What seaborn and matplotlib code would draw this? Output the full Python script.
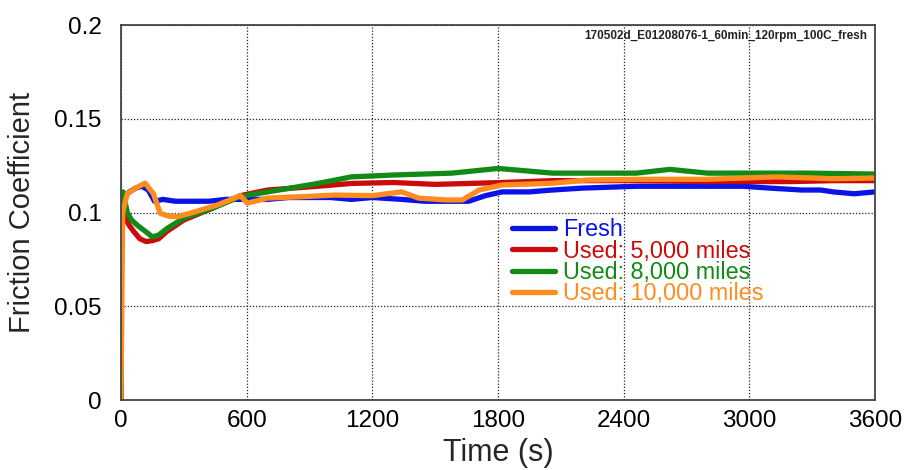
import matplotlib
matplotlib.use("Agg")
import matplotlib.pyplot as plt
import numpy as np
import pandas as pd
import seaborn as sns

# Friction coefficient vs time, one test oil per series
fresh_t = [0, 2, 15, 40, 70, 100, 130, 160, 200, 260, 330, 420, 500, 600, 700, 800, 900,
           1000, 1100, 1200, 1340, 1450, 1550, 1660, 1740, 1820, 1950, 2060, 2200, 2460,
           2600, 2800, 2970, 3100, 3250, 3340, 3400, 3500, 3600]
fresh_mu = [0.0, 0.104, 0.108, 0.111, 0.113, 0.114, 0.112, 0.106, 0.107, 0.106, 0.106,
            0.106, 0.107, 0.107, 0.107, 0.108, 0.108, 0.108, 0.107, 0.108, 0.107, 0.106,
            0.106, 0.106, 0.109, 0.111, 0.111, 0.112, 0.113, 0.114, 0.114, 0.114, 0.114,
            0.113, 0.112, 0.112, 0.111, 0.110, 0.111]

used5k_t = [0, 2, 20, 40, 60, 90, 120, 150, 180, 220, 300, 430, 570, 700, 940, 1100, 1300,
            1500, 1820, 2060, 2460, 2800, 3200, 3400, 3600]
used5k_mu = [0.0, 0.100, 0.097, 0.093, 0.090, 0.086, 0.0845, 0.085, 0.086, 0.090, 0.096,
             0.102, 0.109, 0.112, 0.114, 0.1155, 0.116, 0.115, 0.116, 0.117, 0.117,
             0.1165, 0.1165, 0.117, 0.117]

used8k_t = [0, 3, 10, 30, 50, 80, 110, 150, 180, 220, 300, 430, 570, 700, 940, 1100, 1300,
            1580, 1800, 2060, 2460, 2620, 2800, 3280, 3600]
used8k_mu = [0.0, 0.109, 0.111, 0.100, 0.096, 0.093, 0.0905, 0.087, 0.088, 0.0915, 0.097,
             0.102, 0.1085, 0.111, 0.1155, 0.119, 0.120, 0.121, 0.1235, 0.121, 0.121,
             0.123, 0.121, 0.121, 0.1205]

used10k_t = [0, 8, 30, 70, 115, 155, 187, 230, 270, 330, 460, 570, 603, 700, 860, 1020,
             1200, 1340, 1420, 1550, 1630, 1710, 1820, 2060, 2220, 2460, 2800, 3130, 3400,
             3600]
used10k_mu = [0.0, 0.100, 0.110, 0.113, 0.1157, 0.110, 0.0996, 0.098, 0.0978, 0.0996,
              0.104, 0.109, 0.105, 0.1077, 0.1084, 0.1093, 0.109, 0.111, 0.1077, 0.1067,
              0.1067, 0.112, 0.1147, 0.1156, 0.1173, 0.1177, 0.1177, 0.119, 0.118, 0.1184]

series_names = ["Fresh", "Used: 5,000 miles", "Used: 8,000 miles", "Used: 10,000 miles"]
series_colors = ["#0a14e6", "#cc0a0a", "#128a16", "#ff8c1e"]

x_ticks = [0, 600, 1200, 1800, 2400, 3000, 3600]
y_ticks = [0, 0.05, 0.1, 0.15, 0.2]
y_tick_labels = ["0", "0.05", "0.1", "0.15", "0.2"]
run_id = "170502d_E01208076-1_60min_120rpm_100C_fresh"

frames = []
for name, t, mu in zip(series_names,
                       [fresh_t, used5k_t, used8k_t, used10k_t],
                       [fresh_mu, used5k_mu, used8k_mu, used10k_mu]):
    frames.append(pd.DataFrame({"Time (s)": t, "Friction Coefficient": mu, "Oil": name}))
df = pd.concat(frames, ignore_index=True)

sns.set_style("white")
plt.rcParams["font.family"] = ["Liberation Sans", "DejaVu Sans"]

fig = plt.figure(figsize=(9.05, 4.70), dpi=100)
ax = fig.add_axes([0.1337, 0.1489, 0.8332, 0.7979])

sns.lineplot(data=df, x="Time (s)", y="Friction Coefficient", hue="Oil",
             hue_order=series_names, palette=series_colors, linewidth=3.8,
             estimator=None, sort=False, ax=ax)

ax.set_xlim(0, 3600)
ax.set_ylim(0, 0.2)
ax.set_xticks(x_ticks)
ax.set_xticklabels([str(v) for v in x_ticks])
ax.set_yticks(y_ticks)
ax.set_yticklabels(y_tick_labels)
ax.tick_params(axis="both", direction="in", length=8, width=1.2, color="#222222",
               labelsize=17.5, labelcolor="black")
ax.tick_params(axis="y", pad=14)
ax.tick_params(axis="x", pad=7)
ax.set_xlabel("Time (s)", fontsize=22, va="center")
ax.set_ylabel("Friction Coefficient", fontsize=21, va="center")
ax.xaxis.set_label_coords(0.5, -0.141)
ax.yaxis.set_label_coords(-0.131, 0.5)

ax.grid(True, color="#222222", linestyle=(0, (1, 1.5)), linewidth=0.9)
ax.set_axisbelow(True)
for s in ax.spines.values():
    s.set_color("#444444")
    s.set_linewidth(1.3)

ax.text(0.99, 0.986, run_id, transform=ax.transAxes, ha="right", va="top",
        fontsize=8.5, fontweight="bold", color="#222222")

leg = ax.legend(loc="upper left", bbox_to_anchor=(0.5186, 0.485), frameon=False,
                fontsize=16.8, handlelength=1.85, handletextpad=0.35,
                labelspacing=-0.07, borderpad=0, borderaxespad=0)
for line, text, c in zip(leg.get_lines(), leg.get_texts(), series_colors):
    line.set_linewidth(3.8)
    text.set_color(c)

fig.savefig("out.png", dpi=100)
